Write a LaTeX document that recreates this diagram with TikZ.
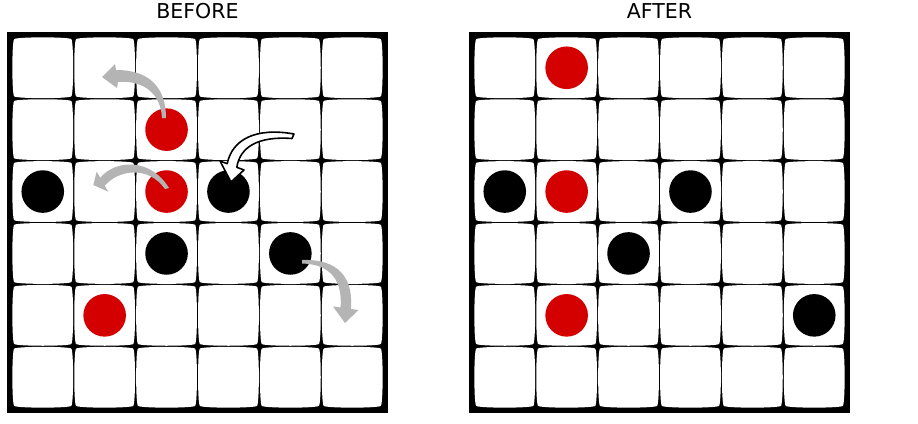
\documentclass[tikz,border=0pt]{standalone}
\usepackage{fontspec}
\setmainfont{DejaVu Sans}
\definecolor{pieceRed}{RGB}{212,0,0}
\definecolor{arrowGray}{RGB}{180,180,180}
\begin{document}
\begin{tikzpicture}[x=1pt,y=-1pt,
  boardbg/.style={fill=black},
  cellbox/.style={fill=white},
  redpiece/.style={circle,fill=pieceRed,minimum size=42.6pt,inner sep=0pt},
  blackpiece/.style={circle,fill=black,minimum size=42.6pt,inner sep=0pt},
  grayarrow/.style={fill=arrowGray},
  whitearrow/.style={fill=white,draw=black,line width=1.6pt,line join=round},
  titletext/.style={font=\fontsize{20.5}{24}\selectfont,inner sep=0pt}]
\useasboundingbox (0,0) rectangle (918,423);
\node[titletext] (before) at (197.5,11.5) {BEFORE};
\node[titletext] (after) at (659.5,11.5) {AFTER};
\foreach \ox in {197.5,659.5} {
  \fill[boardbg] (\ox-190.5,32) rectangle (\ox+190.5,413);
  \foreach \i in {0,...,5} {
    \foreach \j in {0,...,5} {
      \pgfmathsetmacro\cx{\ox+(\i-2.5)*61.9}
      \pgfmathsetmacro\cy{222.5+(\j-2.5)*61.9}
      \fill[cellbox] (\cx-28.6,\cy-28.6)
        .. controls (\cx-26,\cy-31) and (\cx+26,\cy-31) .. (\cx+28.6,\cy-28.6)
        .. controls (\cx+31,\cy-26) and (\cx+31,\cy+26) .. (\cx+28.6,\cy+28.6)
        .. controls (\cx+26,\cy+31) and (\cx-26,\cy+31) .. (\cx-28.6,\cy+28.6)
        .. controls (\cx-31,\cy+26) and (\cx-31,\cy-26) .. cycle;
    }
  }
}
% left board pieces
\node[redpiece] (Lr21) at (166.55,129.65) {};
\node[redpiece] (Lr22) at (166.55,191.55) {};
\node[blackpiece] (Lb02) at (42.75,191.55) {};
\node[blackpiece] (Lb32) at (228.45,191.55) {};
\node[blackpiece] (Lb23) at (166.55,253.45) {};
\node[blackpiece] (Lb43) at (290.35,253.45) {};
\node[redpiece] (Lr14) at (104.65,315.35) {};
% right board pieces
\node[redpiece] (Rr10) at (566.65,67.75) {};
\node[blackpiece] (Rb02) at (504.75,191.55) {};
\node[redpiece] (Rr12) at (566.65,191.55) {};
\node[blackpiece] (Rb32) at (690.45,191.55) {};
\node[blackpiece] (Rb23) at (628.55,253.45) {};
\node[redpiece] (Rr14) at (566.65,315.35) {};
\node[blackpiece] (Rb54) at (814.25,315.35) {};
% arrows
\fill[grayarrow] (166,118) .. controls (166,88) and (150,70) .. (116,70) -- (115,64) -- (102,77) -- (117,88) -- (118,82) .. controls (145,80) and (161,95) .. (162,118) -- cycle;
\fill[grayarrow] (169,188) .. controls (150,157) and (115,160) .. (100.2,177.7) -- (96.7,171.7) -- (93.3,185) -- (108.3,191.7) -- (104.8,185.7) .. controls (118,170) and (148,165) .. (165,189) -- cycle;
\draw[whitearrow] (294,134) .. controls (255,127) and (232,140) .. (227.2,163.7) -- (220,161) -- (231,182) -- (244,170) -- (236.8,167.3) .. controls (240,147) and (258,136) .. (292,138.5) -- cycle;
\fill[grayarrow] (302,260) .. controls (330,259) and (354,270) .. (350.9,309) -- (358.5,310) -- (345,323) -- (333,306.5) -- (340.6,307.5) .. controls (343,275) and (325,264) .. (302,263.5) -- cycle;
\end{tikzpicture}
\end{document}
